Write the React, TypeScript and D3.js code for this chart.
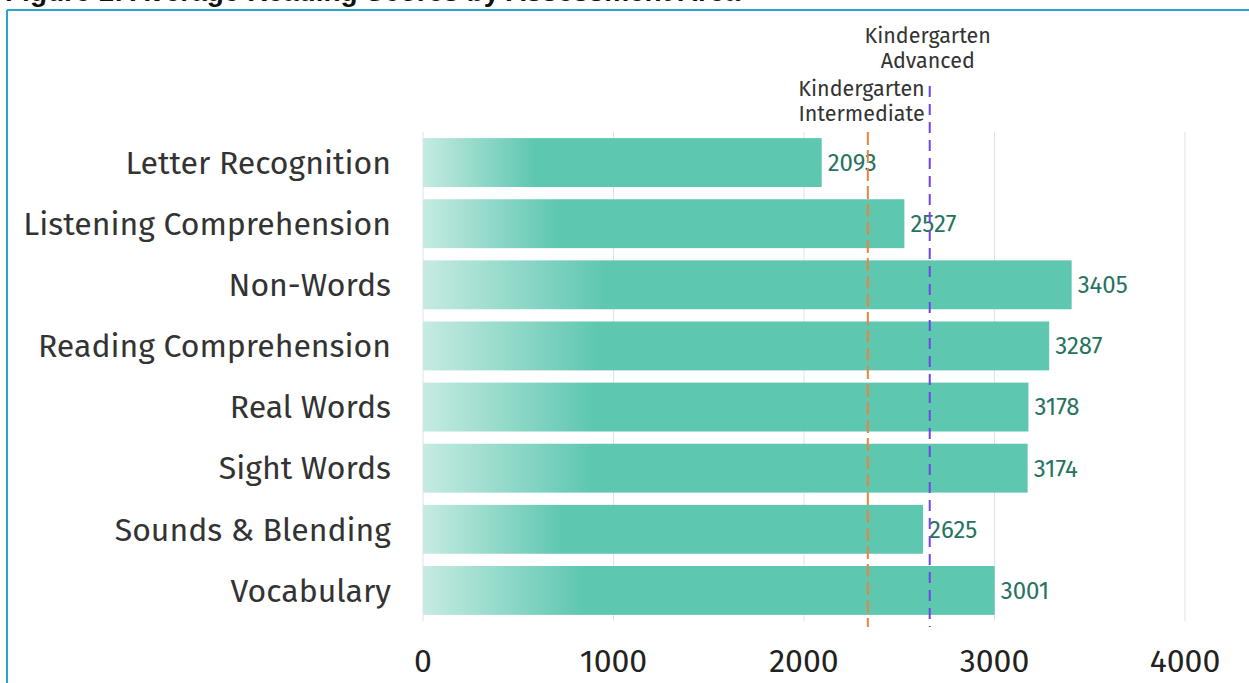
import React from "react";
import * as d3 from "d3";

const categories = [
  "Letter Recognition",
  "Listening Comprehension",
  "Non-Words",
  "Reading Comprehension",
  "Real Words",
  "Sight Words",
  "Sounds & Blending",
  "Vocabulary",
];
const scores = [2093, 2527, 3405, 3287, 3178, 3174, 2625, 3001];
const xTicks = [0, 1000, 2000, 3000, 4000];
const intermediateLevel = 2335;
const advancedLevel = 2660;

const width = 1249;
const height = 683;
const margin = { top: 132, right: 64, bottom: 62, left: 423 };

export default function App() {
  const x = d3
    .scaleLinear()
    .domain([0, 4000])
    .range([margin.left, width - margin.right]);
  const y = d3
    .scaleBand()
    .domain(categories)
    .range([margin.top, height - margin.bottom])
    .paddingInner(0.2)
    .paddingOuter(0.1);

  const font = "'Fira Sans', Lato, 'Noto Sans', sans-serif";
  const barTop = y.range()[0];
  const barBottom = y.range()[1];

  return (
    <div style={{ position: "fixed", left: 0, top: 0 }}>
      <svg width={width} height={height} style={{ display: "block" }}>
        <defs>
          <linearGradient id="barFade" x1="0" x2="1" y1="0" y2="0">
            <stop offset="0" stopColor="#c6ebe2" />
            <stop offset="0.28" stopColor="#5ec7b0" />
            <stop offset="1" stopColor="#5ec7b0" />
          </linearGradient>
        </defs>
        <rect x={0} y={0} width={width} height={height} fill="#fff" />

        {/* figure title, clipped by the top of the page like in the source */}
        <text
          x={5}
          y={0.5}
          fontFamily="'Liberation Sans', Arial, sans-serif"
          fontWeight="bold"
          fontSize={28}
          fill="#111"
        >
          Figure 1: Average Reading Scores by Assessment Area
        </text>

        {/* frame */}
        <line x1={7} x2={width} y1={10} y2={10} stroke="#2ba3d0" strokeWidth={2} />
        <line x1={7} x2={7} y1={10} y2={height} stroke="#2ba3d0" strokeWidth={2} />

        {/* gridlines */}
        {xTicks.map((t) => (
          <line
            key={t}
            x1={x(t)}
            x2={x(t)}
            y1={barTop}
            y2={barBottom}
            stroke="#e2e2e2"
            strokeWidth={1}
          />
        ))}

        {/* bars */}
        {categories.map((c, i) => (
          <g key={c}>
            <rect
              x={x(0)}
              y={y(c)}
              width={x(scores[i]) - x(0)}
              height={y.bandwidth()}
              fill="url(#barFade)"
            />
            <text
              x={x(scores[i]) + 6}
              y={(y(c) as number) + y.bandwidth() / 2}
              dy="0.35em"
              fontFamily={font}
              fontSize={24}
              fill="#277361"
            >
              {scores[i]}
            </text>
            <text
              x={margin.left - 32}
              y={(y(c) as number) + y.bandwidth() / 2}
              dy="0.35em"
              textAnchor="end"
              fontFamily={font}
              fontSize={32}
              fill="#333"
            >
              {c}
            </text>
          </g>
        ))}

        {/* reference lines */}
        <line
          x1={x(intermediateLevel)}
          x2={x(intermediateLevel)}
          y1={barTop}
          y2={barBottom + 6}
          stroke="#ea8440"
          strokeWidth={2}
          strokeDasharray="13 5"
        />
        <line
          x1={x(advancedLevel)}
          x2={x(advancedLevel)}
          y1={86}
          y2={barBottom + 6}
          stroke="#6f45e6"
          strokeWidth={2}
          strokeDasharray="11 7"
        />
        <text textAnchor="middle" fontFamily={font} fontSize={21.5} fill="#333">
          <tspan x={x(advancedLevel) - 2} y={43}>Kindergarten</tspan>
          <tspan x={x(advancedLevel) - 2} y={68}>Advanced</tspan>
        </text>
        <text textAnchor="end" fontFamily={font} fontSize={21.5} fill="#333">
          <tspan x={x(advancedLevel) - 5} y={96}>Kindergarten</tspan>
          <tspan x={x(advancedLevel) - 5} y={121}>Intermediate</tspan>
        </text>

        {/* x axis labels */}
        {xTicks.map((t) => (
          <text
            key={t}
            x={x(t)}
            y={672}
            textAnchor="middle"
            fontFamily={font}
            fontSize={32}
            fill="#222"
          >
            {t}
          </text>
        ))}
      </svg>
    </div>
  );
}
